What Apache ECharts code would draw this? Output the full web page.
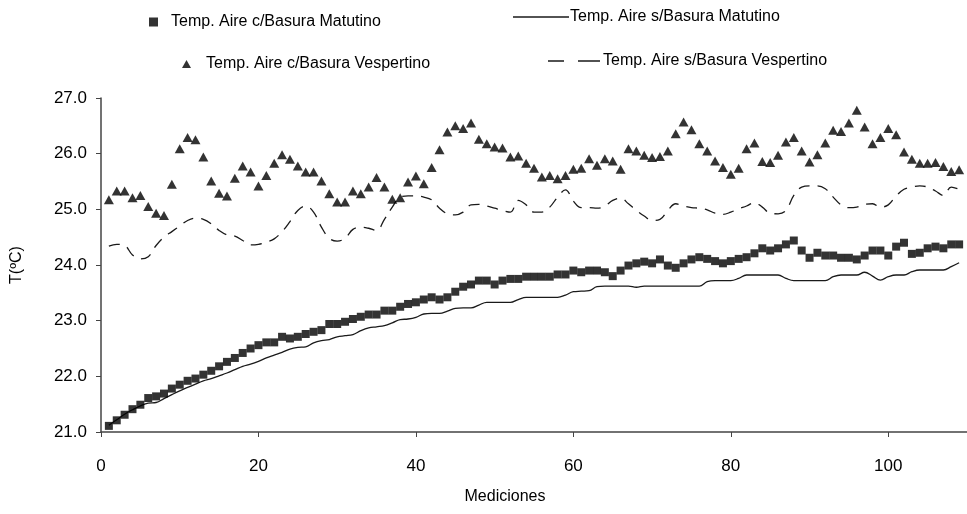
<!DOCTYPE html>
<html>
<head>
<meta charset="utf-8">
<title>Temperatura del aire</title>
<script src="https://cdn.jsdelivr.net/npm/echarts@6/dist/echarts.min.js"></script>
<style>
  html, body { margin: 0; padding: 0; background: #fff; }
  #chart { width: 967px; height: 514px; }
</style>
</head>
<body>
<div id="chart"></div>
<script>
// Air temperature per measurement (ºC), measurements 1..109
const mediciones = Array.from({ length: 109 }, (_, k) => k + 1);

const seriesNames = [
  'Temp. Aire c/Basura Matutino',
  'Temp. Aire s/Basura Matutino',
  'Temp. Aire c/Basura Vespertino',
  'Temp. Aire s/Basura Vespertino'
];

const conBasuraMatutino = [
  21.11, 21.21, 21.31, 21.41, 21.49, 21.61, 21.64, 21.69, 21.78, 21.85,
  21.92, 21.96, 22.03, 22.10, 22.18, 22.26, 22.33, 22.42, 22.50, 22.56,
  22.61, 22.61, 22.71, 22.68, 22.71, 22.76, 22.80, 22.83, 22.94, 22.94,
  22.98, 23.03, 23.07, 23.11, 23.11, 23.18, 23.18, 23.25, 23.30, 23.33,
  23.38, 23.42, 23.38, 23.42, 23.52, 23.61, 23.65, 23.72, 23.72, 23.65,
  23.72, 23.75, 23.75, 23.79, 23.79, 23.79, 23.79, 23.83, 23.83, 23.90,
  23.87, 23.90, 23.90, 23.87, 23.80, 23.90, 23.99, 24.03, 24.06, 24.03,
  24.10, 23.99, 23.95, 24.03, 24.10, 24.14, 24.11, 24.07, 24.03, 24.07,
  24.11, 24.14, 24.21, 24.30, 24.26, 24.30, 24.37, 24.44, 24.26, 24.13,
  24.22, 24.17, 24.17, 24.13, 24.13, 24.10, 24.17, 24.26, 24.26, 24.17,
  24.33, 24.40, 24.20, 24.22, 24.30, 24.33, 24.30, 24.37, 24.37
];

const sinBasuraMatutino = [
  21.12, 21.22, 21.32, 21.40, 21.47, 21.52, 21.53, 21.60, 21.67, 21.74,
  21.80, 21.86, 21.92, 21.96, 22.01, 22.06, 22.12, 22.18, 22.22, 22.27,
  22.33, 22.38, 22.43, 22.49, 22.52, 22.53, 22.60, 22.64, 22.66, 22.71,
  22.73, 22.75, 22.82, 22.87, 22.89, 22.91, 22.96, 23.02, 23.03, 23.06,
  23.12, 23.13, 23.13, 23.17, 23.22, 23.23, 23.23, 23.28, 23.33, 23.33,
  23.33, 23.33, 23.38, 23.42, 23.42, 23.42, 23.42, 23.42, 23.46, 23.52,
  23.53, 23.54, 23.61, 23.62, 23.62, 23.62, 23.62, 23.60, 23.62, 23.62,
  23.62, 23.62, 23.62, 23.62, 23.62, 23.62, 23.70, 23.72, 23.72, 23.72,
  23.76, 23.82, 23.82, 23.82, 23.82, 23.82, 23.76, 23.72, 23.72, 23.72,
  23.72, 23.72, 23.79, 23.82, 23.82, 23.82, 23.87, 23.80, 23.73, 23.79,
  23.82, 23.82, 23.88, 23.91, 23.91, 23.91, 23.91, 23.97, 24.04
];

const conBasuraVespertino = [
  25.17, 25.33, 25.33, 25.21, 25.25, 25.05, 24.93, 24.89, 25.45, 26.09,
  26.29, 26.25, 25.94, 25.51, 25.29, 25.24, 25.56, 25.78, 25.67, 25.42,
  25.61, 25.83, 25.98, 25.90, 25.78, 25.67, 25.67, 25.51, 25.28, 25.13,
  25.13, 25.33, 25.28, 25.40, 25.57, 25.40, 25.18, 25.21, 25.49, 25.60,
  25.46, 25.75, 26.07, 26.39, 26.50, 26.45, 26.55, 26.26, 26.18, 26.12,
  26.10, 25.94, 25.96, 25.83, 25.74, 25.58, 25.61, 25.55, 25.61, 25.72,
  25.74, 25.91, 25.79, 25.91, 25.87, 25.72, 26.09, 26.05, 25.97, 25.93,
  25.95, 26.05, 26.36, 26.57, 26.43, 26.18, 26.05, 25.87, 25.75, 25.63,
  25.74, 26.09, 26.19, 25.86, 25.84, 25.97, 26.21, 26.29, 26.05, 25.85,
  25.98, 26.19, 26.42, 26.40, 26.55, 26.78, 26.48, 26.18, 26.29, 26.45,
  26.34, 26.03, 25.90, 25.83, 25.83, 25.84, 25.77, 25.68, 25.71
];

const sinBasuraVespertino = [
  24.34, 24.37, 24.35, 24.18, 24.11, 24.15, 24.35, 24.50, 24.60, 24.70,
  24.80, 24.84, 24.82, 24.74, 24.62, 24.54, 24.52, 24.44, 24.36, 24.37,
  24.41, 24.47, 24.60, 24.78, 24.98, 25.06, 24.95, 24.68, 24.48, 24.43,
  24.48, 24.64, 24.68, 24.66, 24.62, 24.82, 25.04, 25.22, 25.24, 25.24,
  25.22, 25.17, 25.02, 24.92, 24.90, 24.95, 25.08, 25.09, 25.06, 25.02,
  24.98, 24.95, 25.16, 25.08, 24.95, 24.95, 25.04, 25.22, 25.35, 25.15,
  25.03, 25.03, 25.02, 25.06, 25.16, 25.20, 25.10, 24.98, 24.88, 24.80,
  24.82, 24.98, 25.10, 25.06, 25.03, 25.02, 24.99, 24.93, 24.91, 24.95,
  25.01, 25.06, 25.12, 25.04, 24.93, 24.92, 24.98, 25.25, 25.40, 25.42,
  25.42, 25.37, 25.22, 25.08, 25.03, 25.04, 25.09, 25.10, 25.04, 25.08,
  25.24, 25.36, 25.40, 25.42, 25.40, 25.33, 25.25, 25.40, 25.36
];

const xTicks = { min: 0, max: 110, interval: 20 };
const yTicks = { min: 21, max: 27, interval: 1 };

const pairs = values => mediciones.map((m, k) => [m, values[k]]);

const FONT = 'Liberation Sans, Arial, sans-serif';
const INK = '#000';
const AXIS = '#444';
const LINE = '#1a1a1a';

const legendText = { fontFamily: FONT, fontSize: 16, color: INK };

// Line keys in the legend: a plain stroke and a two-dash stroke
const solidKey = 'path://M0,0H56V1.4H0Z';
const dashedKey = 'path://M0,0H16V1.4H0Z M30,0H52V1.4H30Z';

const chart = echarts.init(document.getElementById('chart'), null, { renderer: 'canvas' });

chart.setOption({
  backgroundColor: '#fff',
  animation: false,
  textStyle: { fontFamily: FONT },
  legend: [
    {
      data: [seriesNames[0]], left: 144, top: 9, icon: 'rect',
      itemWidth: 9, itemHeight: 9,
      textStyle: Object.assign({ padding: [0, 0, 0, 8] }, legendText)
    },
    {
      data: [seriesNames[1]], left: 508, top: 4, icon: solidKey,
      itemWidth: 56, itemHeight: 1.4,
      textStyle: Object.assign({ padding: [0, 0, 0, -4] }, legendText)
    },
    {
      data: [seriesNames[2]], left: 177, top: 51, icon: 'triangle',
      itemWidth: 9, itemHeight: 8,
      textStyle: Object.assign({ padding: [0, 0, 0, 10] }, legendText)
    },
    {
      data: [seriesNames[3]], left: 543, top: 48, icon: dashedKey,
      itemWidth: 52, itemHeight: 1.4,
      textStyle: Object.assign({ padding: [0, 0, 0, -2] }, legendText)
    }
  ],
  grid: { left: 101, top: 98, width: 872, height: 334, containLabel: false },
  xAxis: {
    type: 'value',
    min: xTicks.min, max: xTicks.max, interval: xTicks.interval,
    name: 'Mediciones', nameLocation: 'middle', nameGap: 57,
    nameTextStyle: { fontFamily: FONT, fontSize: 16, color: INK, padding: [0, 58, 0, 0] },
    splitLine: { show: false },
    axisLine: { show: true, lineStyle: { color: AXIS, width: 1.5 } },
    axisTick: { show: true, length: 5, lineStyle: { color: AXIS } },
    axisLabel: {
      margin: 26, fontFamily: FONT, fontSize: 17, color: INK,
      showMaxLabel: false,
      formatter: v => (v % xTicks.interval === 0 ? String(v) : '')
    }
  },
  yAxis: {
    type: 'value',
    min: yTicks.min, max: yTicks.max, interval: yTicks.interval,
    name: 'T(ºC)', nameLocation: 'middle', nameGap: 76, nameRotate: 90,
    nameTextStyle: { fontFamily: FONT, fontSize: 16, color: INK },
    splitLine: { show: false },
    axisLine: { show: true, lineStyle: { color: AXIS, width: 1.5 } },
    axisTick: { show: true, length: 5, lineStyle: { color: AXIS } },
    axisLabel: {
      margin: 14, fontFamily: FONT, fontSize: 17, color: INK,
      formatter: v => v.toFixed(1)
    }
  },
  series: [
    {
      name: seriesNames[0], type: 'scatter', data: pairs(conBasuraMatutino),
      symbol: 'rect', symbolSize: 8,
      itemStyle: { color: '#000' }, z: 4
    },
    {
      name: seriesNames[1], type: 'line', data: pairs(sinBasuraMatutino),
      smooth: 0.4, symbol: 'none', showSymbol: false,
      lineStyle: { color: LINE, width: 1.3 },
      itemStyle: { color: LINE }, z: 3
    },
    {
      name: seriesNames[2], type: 'scatter', data: pairs(conBasuraVespertino),
      symbol: 'triangle', symbolSize: [10, 9],
      itemStyle: { color: '#000' }, z: 4
    },
    {
      name: seriesNames[3], type: 'line', data: pairs(sinBasuraVespertino),
      smooth: 0.4, symbol: 'none', showSymbol: false,
      lineStyle: { color: LINE, width: 1.3, type: [11, 8] },
      itemStyle: { color: LINE }, z: 3
    }
  ]
});
</script>
</body>
</html>
